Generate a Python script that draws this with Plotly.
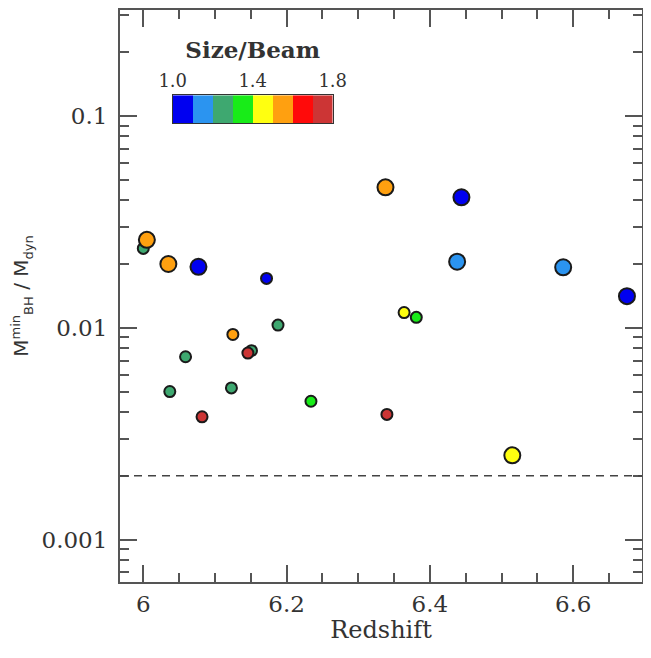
import numpy as np
import plotly.graph_objects as go

# ---------------- data ----------------
redshift = [6.000, 6.005, 6.035, 6.077, 6.172, 6.188, 6.125, 6.151, 6.146, 6.059,
            6.037, 6.123, 6.234, 6.082, 6.338, 6.444, 6.438, 6.586, 6.675, 6.364,
            6.381, 6.340, 6.515]
mbh_mdyn = [0.0237, 0.0260, 0.0200, 0.0194, 0.0171, 0.0103, 0.0093, 0.0078, 0.0076, 0.0073,
            0.0050, 0.0052, 0.0045, 0.0038, 0.0460, 0.0413, 0.0205, 0.0193, 0.0141, 0.0118,
            0.0112, 0.0039, 0.0025]
size_beam = [1.25, 1.55, 1.55, 1.05, 1.05, 1.25, 1.55, 1.25, 1.75, 1.25,
             1.25, 1.25, 1.35, 1.75, 1.55, 1.05, 1.15, 1.15, 1.05, 1.45,
             1.35, 1.75, 1.45]
sample = ["S", "L", "L", "L", "S", "S", "S", "S", "S", "S",
          "S", "S", "S", "S", "L", "L", "L", "L", "L", "S",
          "S", "S", "L"]
threshold = 0.002
cbar_edges = [1.0, 1.1, 1.2, 1.3, 1.4, 1.5, 1.6, 1.7, 1.8]
cbar_ticks = [1.0, 1.4, 1.8]
cbar_colors = ["#0000f0", "#2b94f0", "#3ea870", "#18ec18",
               "#ffff10", "#ffa010", "#ff0a0a", "#cc3535"]
y_ticks = [0.001, 0.01, 0.1]
y_ticktext = ["0.001", "0.01", "0.1"]
x_ticks = [6.0, 6.2, 6.4, 6.6]
x_ticktext = ["6", "6.2", "6.4", "6.6"]

# ---------------- styling ----------------
nb = len(cbar_colors)
cscale = []
for i, c in enumerate(cbar_colors):
    cscale.append([i / nb, c])
    cscale.append([(i + 1) / nb, c])

size_map = {"L": 16, "S": 11}
msizes = [size_map[s] for s in sample]

AX = "#555555"
SERIF = "DejaVu Serif"

fig = go.Figure()

fig.add_trace(go.Scatter(
    x=redshift, y=mbh_mdyn, mode="markers",
    marker=dict(size=msizes, color=size_beam, colorscale=cscale,
                cmin=cbar_edges[0], cmax=cbar_edges[-1],
                line=dict(color="#1a1a1a", width=2), opacity=1),
    showlegend=False, hoverinfo="x+y",
))

# threshold dashed line
fig.add_hline(y=threshold, line=dict(color="#444444", width=1.5, dash="8px,6px"))

# colour bar inset drawn as heatmap
centers = [(a + b) / 2 for a, b in zip(cbar_edges[:-1], cbar_edges[1:])]
fig.add_trace(go.Heatmap(
    x=centers, y=[0], z=[centers], colorscale=cscale,
    zmin=cbar_edges[0], zmax=cbar_edges[-1], showscale=False,
    xaxis="x2", yaxis="y2", hoverinfo="skip",
))

minor_y = [m * 10.0 ** e for e in range(-4, 0) for m in range(2, 10)]

small = '<span style="font-size:13px">{}</span>'
ytitle = ("M<sup>" + small.format("min") + "</sup><sub>" + small.format("BH") +
          "</sub> / M<sub>" + small.format("dyn") + "</sub>")

fig.update_layout(
    template="none",
    width=635, height=636, autosize=False,
    margin=dict(l=112, r=1, t=2, b=62, pad=0),
    paper_bgcolor="white", plot_bgcolor="white",
    font=dict(family=SERIF, size=23, color="#333333"),
    xaxis=dict(
        range=[5.9675, 6.696], tickvals=x_ticks, ticktext=x_ticktext,
        ticks="inside", ticklen=17, tickwidth=1.5, tickcolor=AX,
        minor=dict(ticks="inside", ticklen=9, tickwidth=1.5, tickcolor=AX,
                   dtick=0.05, tick0=6.0, showgrid=False),
        showline=True, linecolor=AX, linewidth=2, mirror="ticks",
        showgrid=False, zeroline=False, automargin=False,
        title=dict(text="Redshift", font=dict(family=SERIF, size=24), standoff=13),
    ),
    yaxis=dict(
        type="log", range=[-3.2, -0.5], tickvals=y_ticks, ticktext=y_ticktext,
        ticks="inside", ticklen=17, tickwidth=1.5, tickcolor=AX,
        minor=dict(ticks="inside", ticklen=9, tickwidth=1.5, tickcolor=AX,
                   tickvals=minor_y, showgrid=False),
        showline=True, linecolor=AX, linewidth=2, mirror="ticks",
        showgrid=False, zeroline=False, ticklabelstandoff=6, automargin=False,
        title=dict(text=ytitle, font=dict(family="DejaVu Sans", size=20, color="#333333"),
                   standoff=12),
    ),
    xaxis2=dict(
        domain=[0.101, 0.4075], anchor="y2", range=[cbar_edges[0], cbar_edges[-1]],
        side="top", tickvals=cbar_ticks, ticktext=[f"{t:.1f}" for t in cbar_ticks],
        ticks="", showline=True, linecolor="#333333", linewidth=1, mirror=True,
        showgrid=False, zeroline=False, tickfont=dict(family=SERIF, size=18),
        automargin=False,
        title=dict(text="<b>Size/Beam</b>", font=dict(family=SERIF, size=23), standoff=4),
    ),
    yaxis2=dict(
        domain=[0.802, 0.851], anchor="x2", showticklabels=False, ticks="",
        showline=True, linecolor="#333333", linewidth=1, mirror=True,
        showgrid=False, zeroline=False, automargin=False,
    ),
)

fig.write_html("out.html")
